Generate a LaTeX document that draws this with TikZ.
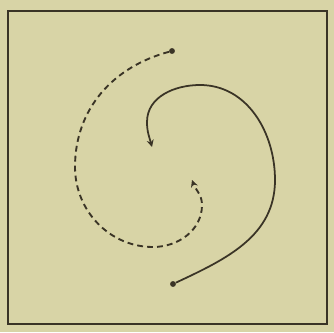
\documentclass[tikz,border=0pt]{standalone}
\usepackage{tikz}
\usetikzlibrary{arrows.meta}

\definecolor{paper}{RGB}{216,212,166}
\definecolor{ink}{RGB}{58,52,38}

\begin{document}
\begin{tikzpicture}[
    x=0.3mm, y=-0.3mm,
    frame/.style={draw=ink, line width=1.2pt},
    dot/.style={circle, fill=ink, inner sep=0pt, minimum size=5pt},
    solidarc/.style={draw=ink, line width=1.5pt, -{Stealth[length=6pt,width=6pt]}},
    dasharc/.style={draw=ink, line width=1.6pt, dash pattern=on 5pt off 3.5pt, -{Stealth[length=6pt,width=6pt]}}
  ]
    \fill[paper] (0,0) rectangle (334,332);
    \useasboundingbox (0,0) rectangle (334,332);
    \draw[frame] (8,11) rectangle (327,324);

    % solid spiral
    \node[dot] (sa) at (173,284) {};
    \coordinate (sb) at (152,147);
    \draw[solidarc] (sa) to[out=25,in=270] (275,180) to[out=90,in=0] (200,85)
      to[out=180,in=90] (147,122) to[out=270,in=105] (sb);

    % dashed spiral
    \node[dot] (da) at (172,51) {};
    \coordinate (db) at (192,180);
    \draw[dasharc] (da) to[out=195,in=90] (75,167) to[out=270,in=180] (153,247)
      to[out=0,in=270] (202,205) to[out=90,in=290] (db);
\end{tikzpicture}
\end{document}
